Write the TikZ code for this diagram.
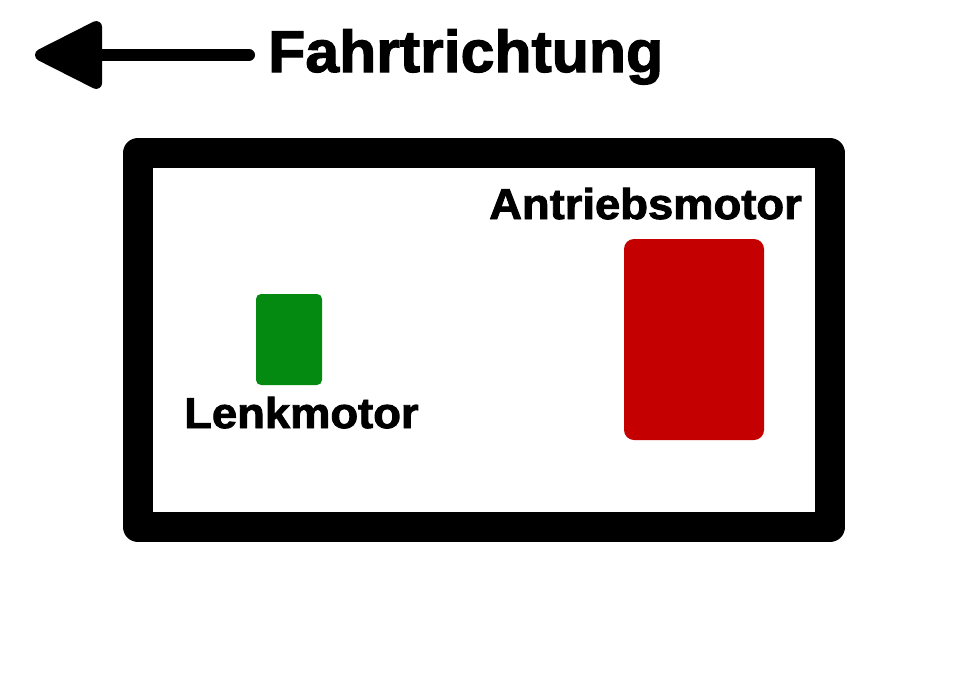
\documentclass[tikz,border=0pt]{standalone}
\usepackage{fontspec}
\setmainfont{Liberation Sans}[BoldFeatures={FakeBold=2}]
\usepackage{xcolor}
\usepackage{tikz}
\usetikzlibrary{arrows.meta,positioning}
\definecolor{motorgreen}{HTML}{058A11}
\definecolor{motorred}{HTML}{C40000}

\begin{document}
\begin{tikzpicture}[
    x=1pt, y=-1pt,
    label/.style={font=\bfseries\fontsize{43}{43}\selectfont, inner sep=0pt, xscale=1.055},
    motor/.style={rounded corners=#1, inner sep=0pt, outer sep=0pt},
    arrow/.style={-{Triangle[length=75pt, width=72pt, round]}, line width=12pt, line cap=round, line join=round}
  ]
    \useasboundingbox (0,0) rectangle (968,680);
    \node[draw, line width=30pt, line join=round, inner sep=0pt, outer sep=0pt,
      minimum width=692pt, minimum height=374pt] (frame) at (484,340) {};
    \node[motor=5pt, fill=motorgreen, minimum width=66pt, minimum height=91pt] (steer) at (289,339.5) {};
    \node[motor=10pt, fill=motorred, minimum width=140pt, minimum height=201pt] (drive) at (694,339.5) {};
    \node[label, anchor=base west] (steerlabel) at (184,428) {Lenkmotor};
    \node[label, anchor=base west] (drivelabel) at (489,219) {Antriebsmotor};
    \node[label, font=\bfseries\fontsize{59}{59}\selectfont, xscale=1.03/1.055, anchor=base west] (dir) at (268,72) {Fahrtrichtung};
    \coordinate (ahead) at (35,55);
    \draw[arrow] (dir.west |- ahead) ++(-19,0) -- (ahead);
  \end{tikzpicture}
\end{document}
